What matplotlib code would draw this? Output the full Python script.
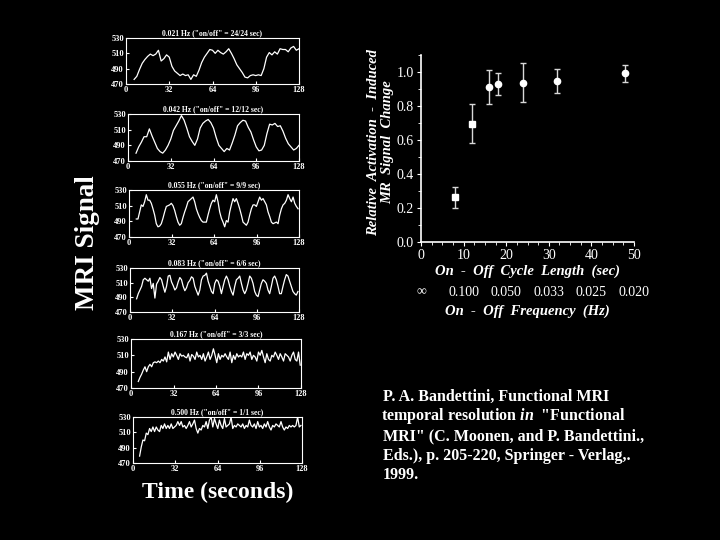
import numpy as np
import matplotlib.pyplot as plt

plt.rcParams['font.family'] = ['Liberation Serif', 'DejaVu Serif']

# --- left: six MRI time series (signal, a.u.) ---
titles = ['0.021 Hz ("on/off" = 24/24 sec)',
          '0.042 Hz ("on/off" = 12/12 sec)',
          '0.055 Hz ("on/off" = 9/9 sec)',
          '0.083 Hz ("on/off" = 6/6 sec)',
          '0.167 Hz ("on/off" = 3/3 sec)',
          '0.500 Hz ("on/off" = 1/1 sec)']
t_start = [6.0, 6.0, 5.5, 5.0, 5.5, 5.0]
t_end = [128.0, 128.0, 127.3, 127.2, 127.4, 127.2]

sig1 = [476, 480, 489, 497, 502, 506, 509, 507, 509, 514, 500, 503, 508, 505, 493, 487,
        484, 481, 483, 481, 482, 476, 482, 480, 488, 498, 505, 510, 515, 514, 510, 514,
        511, 509, 512, 516, 510, 503, 495, 490, 485, 479, 478, 481, 482, 481, 482, 481,
        490, 505, 511, 508, 512, 509, 516, 515, 515, 512, 517, 519, 514, 516]
sig2 = [480, 488, 494, 501, 501, 511, 502, 494, 486, 482, 480, 484, 490, 498, 509, 515,
        521, 528, 522, 512, 501, 495, 490, 498, 512, 518, 521, 523, 519, 512, 500, 490,
        486, 482, 486, 484, 493, 503, 515, 519, 522, 521, 513, 507, 497, 488, 483, 484,
        490, 505, 517, 516, 518, 514, 515, 508, 499, 492, 488, 484, 486, 490]
sig3 = [493, 493, 502, 511, 509, 515, 524, 517, 517, 513, 506, 498, 487, 483, 484, 487,
        494, 502, 509, 510, 511, 513, 510, 504, 496, 489, 485, 487, 495, 502, 508, 515,
        517, 519, 521, 515, 506, 500, 495, 491, 489, 489, 489, 498, 506, 513, 517, 515,
        524, 515, 502, 494, 489, 483, 491, 489, 502, 511, 519, 515, 519, 513, 506, 498,
        489, 487, 485, 489, 498, 506, 511, 511, 509, 515, 521, 517, 519, 515, 511, 502,
        496, 489, 487, 488, 489, 487, 498, 506, 511, 513, 517, 524, 519, 515, 521, 513,
        509, 506]
sig4 = [488, 495, 500, 505, 514, 516, 514, 512, 516, 502, 509, 489, 508, 512, 517, 514,
        505, 497, 505, 519, 520, 511, 506, 500, 503, 511, 517, 514, 505, 499, 503, 510,
        513, 518, 516, 505, 499, 493, 500, 514, 519, 520, 523, 512, 505, 498, 495, 509,
        514, 512, 505, 495, 505, 514, 519, 514, 505, 498, 493, 505, 514, 516, 519, 509,
        500, 495, 500, 509, 519, 516, 509, 498, 493, 491, 500, 509, 514, 512, 509, 500,
        495, 505, 516, 519, 514, 505, 495, 495, 505, 514, 521, 519, 512, 505, 498, 495,
        493, 498]
sig5 = [478, 483, 487, 492, 496, 490, 496, 499, 496, 501, 502, 501, 503, 501, 505, 503,
        508, 502, 514, 505, 512, 508, 514, 510, 505, 512, 509, 510, 508, 507, 512, 503,
        511, 509, 505, 514, 508, 510, 505, 512, 503, 508, 514, 505, 510, 518, 510, 501,
        512, 505, 510, 508, 512, 508, 505, 514, 501, 510, 505, 512, 508, 510, 508, 514,
        505, 512, 510, 514, 505, 510, 508, 503, 514, 510, 516, 508, 501, 512, 505, 503,
        510, 508, 514, 510, 505, 512, 508, 503, 512, 510, 508, 503, 510, 514, 505, 503,
        514, 498]
sig6 = [479, 491, 500, 499, 509, 507, 515, 511, 517, 511, 517, 513, 511, 519, 515, 521,
        515, 519, 515, 521, 515, 517, 519, 524, 519, 524, 517, 519, 515, 519, 524, 517,
        521, 526, 515, 509, 515, 513, 519, 517, 524, 515, 526, 530, 517, 528, 521, 515,
        526, 519, 515, 528, 517, 519, 521, 530, 515, 519, 517, 521, 519, 517, 521, 515,
        519, 517, 526, 519, 517, 521, 515, 524, 517, 519, 515, 521, 517, 524, 517, 513,
        519, 517, 521, 519, 517, 524, 517, 513, 517, 515, 519, 517, 519, 517, 519, 530,
        517, 519]
signals = [sig1, sig2, sig3, sig4, sig5, sig6]

# --- right: relative activation vs on/off cycle length ---
cycle_len = [8, 12, 16, 18, 24, 32, 48]
activation = [0.26, 0.695, 0.91, 0.93, 0.935, 0.945, 0.99]
act_err = [0.06, 0.115, 0.10, 0.065, 0.115, 0.072, 0.052]
freq_pos = [0, 10, 20, 30, 40, 50]
freq_labels = ['\u221e', '0.100', '0.050', '0.033', '0.025', '0.020']

citation = ['P. A. Bandettini, Functional MRI',
            'temporal resolution $\\mathit{in}$  "Functional',
            'MRI" (C. Moonen, and P. Bandettini.,',
            'Eds.), p. 205-220, Springer - Verlag,.',
            '1999.']

W, H = 720, 540
fig = plt.figure(figsize=(7.2, 5.4), dpi=100, facecolor='black')
plt.rcParams['mathtext.fontset'] = 'custom'
plt.rcParams['mathtext.it'] = 'Liberation Serif:italic:bold'


def px_axes(l, t, r, b):
    return fig.add_axes([l / W, 1 - b / H, (r - l) / W, (b - t) / H])


# pixel boxes of the scanned panels (left, top, right, bottom)
boxes = [(126, 38, 299, 84), (128, 114, 299, 161), (129, 190, 299, 237),
         (130, 268, 299, 312), (131, 339, 301, 388), (133, 417, 302, 463)]

for box, title, sig, t0, t1 in zip(boxes, titles, signals, t_start, t_end):
    ax = px_axes(*box)
    ax.set_facecolor('black')
    t = np.linspace(t0, t1, len(sig))
    ax.plot(t, sig, color='white', lw=0.9)
    ax.set_xlim(0, 128)
    ax.set_ylim(470, 530)
    ax.set_xticks([0, 32, 64, 96, 128])
    ax.set_yticks([470, 490, 510, 530])
    for s in ax.spines.values():
        s.set_color('white')
        s.set_linewidth(0.8)
    ax.tick_params(colors='white', labelsize=6, length=2, direction='in', pad=1.5)
    for lab in ax.get_xticklabels() + ax.get_yticklabels():
        lab.set_fontweight('bold')
    ax.set_title(title, color='white', fontsize=5.5, fontweight='bold', pad=2)

fig.text(88 / W, 1 - 243 / H, 'MRI Signal', rotation=90, color='white',
         fontsize=19.5, fontweight='bold', ha='center', va='center')
fig.text(218 / W, 1 - 492 / H, 'Time (seconds)', color='white',
         fontsize=17, fontweight='bold', ha='center', va='center')

# right plot
ax = px_axes(421, 54.7, 634, 241.7)
ax.set_facecolor('black')
ax.errorbar(cycle_len[:2], activation[:2], yerr=act_err[:2], fmt='s', ms=4.5,
            color='white', ecolor='#d8d8d8', elinewidth=1, capsize=2.5)
ax.errorbar(cycle_len[2:], activation[2:], yerr=act_err[2:], fmt='o', ms=4.5,
            color='white', ecolor='#d8d8d8', elinewidth=1, capsize=2.5)
ax.set_xlim(0, 50)
ax.set_ylim(0, 1.1)
ax.set_xticks(range(0, 51, 10))
ax.set_yticks([0.0, 0.2, 0.4, 0.6, 0.8, 1.0])
ax.set_yticklabels(['0.0', '0.2', '0.4', '0.6', '0.8', '1.0'])
ax.set_xticks(np.arange(0, 51, 2.5), minor=True)
ax.set_yticks(np.arange(0, 1.11, 0.1), minor=True)
ax.spines['top'].set_visible(False)
ax.spines['right'].set_visible(False)
for s in ('left', 'bottom'):
    ax.spines[s].set_color('white')
    ax.spines[s].set_linewidth(1.2)
ax.tick_params(which='both', colors='white', direction='out', labelsize=10)
ax.tick_params(which='major', length=3, pad=2)
ax.tick_params(which='minor', length=2)
ax.set_xlabel('On  -  Off  Cycle  Length  (sec)', color='white', fontsize=10.5,
              fontweight='bold', fontstyle='italic', labelpad=2)
for xp, lab in zip(freq_pos, freq_labels):
    ax.text(xp, -0.27, lab, transform=ax.get_xaxis_transform(), color='white',
            fontsize=10, ha='center', va='center')
ax.text(0.5, -0.37, 'On  -  Off  Frequency  (Hz)', transform=ax.transAxes,
        color='white', fontsize=10.5, fontweight='bold', fontstyle='italic',
        ha='center', va='center')
fig.text(381 / W, 1 - 142 / H, 'Relative  Activation  -  Induced\nMR  Signal  Change',
         rotation=90, color='white', fontsize=10.5, fontweight='bold',
         fontstyle='italic', ha='center', va='center', linespacing=1.1)

for i, line in enumerate(citation):
    x0 = 381 if '$' in line else 383   # mathtext line renders a touch to the right
    fig.text(x0 / W, 1 - (397 + 19.5 * i) / H, line, color='white', fontsize=11.5,
             fontweight='bold', ha='left', va='center')

fig.savefig('out.png', dpi=100, facecolor='black')
